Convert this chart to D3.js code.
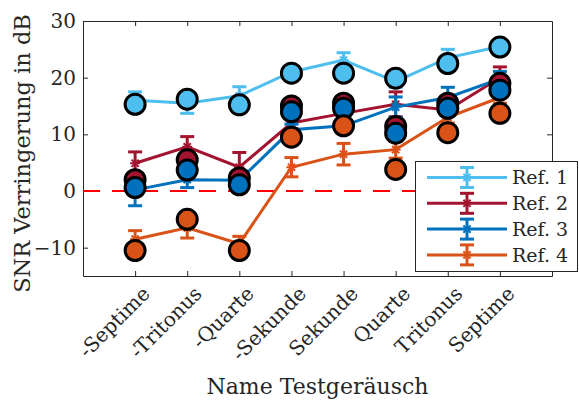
<!DOCTYPE html>
<html lang="de">
  <head>
    <meta charset="UTF-8" />
    <title>SNR Verringerung</title>
    <style>
      body { margin: 0; background: #fff; }
      svg text { font-family: "DejaVu Serif", serif; fill: #262626; }
    </style>
  </head>
  <body>
    <div class="chart"></div>
    <script src="https://d3js.org/d3.v7.min.js"></script>
    <script>
      // Daten
      const categories = ['-Septime', '-Tritonus', '-Quarte', '-Sekunde', 'Sekunde', 'Quarte', 'Tritonus', 'Septime'];
      const seriesNames = ['Ref. 1', 'Ref. 2', 'Ref. 3', 'Ref. 4'];
      const yTicks = [-10, 0, 10, 20, 30];

      const ref1Mean = [16.0, 15.5, 16.8, 21.0, 23.1, 19.3, 23.5, 25.5];
      const ref1Err  = [1.5, 1.8, 1.6, 1.0, 1.3, 1.0, 1.5, 1.0];
      const ref1Pts  = [15.3, 16.2, 15.2, 20.8, 20.8, 19.9, 22.5, 25.4];

      const ref2Mean = [4.9, 7.8, 4.2, 12.0, 13.7, 15.3, 14.3, 20.0];
      const ref2Err  = [2.0, 1.8, 2.6, 1.0, 1.0, 2.2, 1.0, 1.9];
      const ref2Pts  = [2.0, 5.5, 2.3, 15.0, 15.5, 11.4, 15.5, 19.0];

      const ref3Mean = [0.2, 2.0, 1.9, 10.8, 11.5, 14.8, 16.5, 19.8];
      const ref3Err  = [2.8, 1.4, 1.0, 1.0, 1.0, 1.8, 1.8, 1.3];
      const ref3Pts  = [0.6, 3.7, 1.1, 14.0, 14.6, 10.2, 14.6, 17.8];

      const ref4Mean = [-8.5, -6.5, -9.3, 4.2, 6.5, 7.3, 13.0, 16.5];
      const ref4Err  = [1.5, 1.8, 1.3, 1.7, 1.9, 1.5, 1.0, 1.0];
      const ref4Pts  = [-10.5, -5.0, -10.5, 9.5, 11.5, 3.8, 10.3, 13.7];

      const colors = ['#4DBEEE', '#A2142F', '#0072BD', '#D95319'];

      const series = [
        { mean: ref1Mean, err: ref1Err, pts: ref1Pts },
        { mean: ref2Mean, err: ref2Err, pts: ref2Pts },
        { mean: ref3Mean, err: ref3Err, pts: ref3Pts },
        { mean: ref4Mean, err: ref4Err, pts: ref4Pts }
      ].map((s, i) => ({ ...s, name: seriesNames[i], color: colors[i] }));

      const serif = '"DejaVu Serif", serif';

      // SVG
      const svgWidth = 579, svgHeight = 401;
      const margin = { top: 21, right: 27, bottom: 125, left: 83 };

      const svg = d3.select('.chart')
                    .append('svg')
                    .attr('width', svgWidth)
                    .attr('height', svgHeight);

      const xScale = d3.scaleLinear()
                       .domain([0, categories.length + 1])
                       .range([margin.left, svgWidth - margin.right]);
      const yScale = d3.scaleLinear()
                       .domain([-15, 30])
                       .range([svgHeight - margin.bottom, margin.top]);

      const x0 = xScale.range()[0], x1 = xScale.range()[1];
      const y0 = yScale.range()[0], y1 = yScale.range()[1];
      const axisColor = '#262626';
      const tickLen = 5;

      // Achsen (Box mit Ticks innen)
      const xAxisBottom = svg.append('g')
        .attr('transform', `translate(0,${y0})`)
        .call(d3.axisBottom(xScale).tickValues(d3.range(1, categories.length + 1))
              .tickSizeInner(-tickLen).tickSizeOuter(0).tickFormat(''));
      const xAxisTop = svg.append('g')
        .attr('transform', `translate(0,${y1})`)
        .call(d3.axisTop(xScale).tickValues(d3.range(1, categories.length + 1))
              .tickSizeInner(-tickLen).tickSizeOuter(0).tickFormat(''));
      const yAxisLeft = svg.append('g')
        .attr('transform', `translate(${x0},0)`)
        .call(d3.axisLeft(yScale).tickValues(yTicks)
              .tickSizeInner(-tickLen).tickSizeOuter(0).tickPadding(7));
      const yAxisRight = svg.append('g')
        .attr('transform', `translate(${x1},0)`)
        .call(d3.axisRight(yScale).tickValues(yTicks)
              .tickSizeInner(-tickLen).tickSizeOuter(0).tickFormat(''));

      [xAxisBottom, xAxisTop, yAxisLeft, yAxisRight].forEach(a => {
        a.attr('font-family', serif);
        a.select('.domain').attr('stroke', axisColor);
        a.selectAll('.tick line').attr('stroke', axisColor);
      });
      yAxisLeft.selectAll('text')
        .attr('font-size', 20)
        .attr('fill', axisColor);

      // X-Beschriftungen schräg
      svg.append('g').selectAll('text')
        .data(categories)
        .join('text')
        .attr('transform', (d, i) => `translate(${xScale(i + 1) + 6},${y0 + 9}) rotate(-45)`)
        .attr('text-anchor', 'end')
        .attr('dy', '0.7em')
        .attr('font-family', serif)
        .attr('font-size', 20)
        .text(d => d);

      // Achsentitel
      svg.append('text')
        .attr('x', (x0 + x1) / 2)
        .attr('y', 394)
        .attr('text-anchor', 'middle')
        .attr('font-family', serif)
        .attr('font-size', 22)
        .text('Name Testgeräusch');

      svg.append('text')
        .attr('transform', `translate(30,${(y0 + y1) / 2 + 5}) rotate(-90)`)
        .attr('text-anchor', 'middle')
        .attr('font-family', serif)
        .attr('font-size', 22.5)
        .text('SNR Verringerung in dB');

      // Nulllinie
      svg.append('line')
        .attr('x1', x0).attr('x2', x1)
        .attr('y1', yScale(0)).attr('y2', yScale(0))
        .attr('stroke', '#FF0000')
        .attr('stroke-width', 2)
        .attr('stroke-dasharray', '17,12');

      const line = d3.line()
                     .x((d, i) => xScale(i + 1))
                     .y(d => yScale(d));

      // Asterisk-Marker
      function asterisk(g, cx, cy, r, color) {
        const d = r * 0.72;
        const segs = [[-r, 0, r, 0], [0, -r, 0, r], [-d, -d, d, d], [-d, d, d, -d]];
        g.selectAll(null).data(segs).join('line')
          .attr('x1', s => cx + s[0]).attr('y1', s => cy + s[1])
          .attr('x2', s => cx + s[2]).attr('y2', s => cy + s[3])
          .attr('stroke', color).attr('stroke-width', 2);
      }

      function errorBar(g, cx, yTop, yBot, color, capW) {
        g.append('line').attr('x1', cx).attr('x2', cx).attr('y1', yTop).attr('y2', yBot)
          .attr('stroke', color).attr('stroke-width', 3);
        g.append('line').attr('x1', cx - capW).attr('x2', cx + capW).attr('y1', yTop).attr('y2', yTop)
          .attr('stroke', color).attr('stroke-width', 3);
        g.append('line').attr('x1', cx - capW).attr('x2', cx + capW).attr('y1', yBot).attr('y2', yBot)
          .attr('stroke', color).attr('stroke-width', 3);
      }

      // Fehlerbalken + Linien
      series.forEach(s => {
        const g = svg.append('g');
        s.mean.forEach((m, i) => {
          errorBar(g, xScale(i + 1), yScale(m + s.err[i]), yScale(m - s.err[i]), s.color, 7);
        });
        g.append('path')
          .datum(s.mean)
          .attr('d', line)
          .attr('fill', 'none')
          .attr('stroke', s.color)
          .attr('stroke-width', 3);
        s.mean.forEach((m, i) => asterisk(g, xScale(i + 1), yScale(m), 5, s.color));
      });

      // Einzelwerte als Kreise
      series.forEach(s => {
        svg.append('g').selectAll('circle')
          .data(s.pts)
          .join('circle')
          .attr('cx', (d, i) => xScale(i + 1))
          .attr('cy', d => yScale(d))
          .attr('r', 10)
          .attr('fill', s.color)
          .attr('stroke', '#000')
          .attr('stroke-width', 3);
      });

      // Legende
      const legend = svg.append('g');
      legend.append('rect')
        .attr('x', 415.5).attr('y', 161.5)
        .attr('width', 162).attr('height', 110)
        .attr('fill', '#fff')
        .attr('stroke', axisColor)
        .attr('stroke-width', 1);

      series.forEach((s, i) => {
        const ly = 177.5 + i * 25.8;
        legend.append('line')
          .attr('x1', 427).attr('x2', 507)
          .attr('y1', ly).attr('y2', ly)
          .attr('stroke', s.color).attr('stroke-width', 3);
        errorBar(legend, 467, ly - 10, ly + 10, s.color, 7);
        asterisk(legend, 467, ly, 5, s.color);
        legend.append('text')
          .attr('x', 512).attr('y', ly)
          .attr('dy', '0.35em')
          .attr('font-family', serif)
          .attr('font-size', 19)
          .text(s.name.replace(' ', '\u00A0'));
      });
    </script>
  </body>
</html>
